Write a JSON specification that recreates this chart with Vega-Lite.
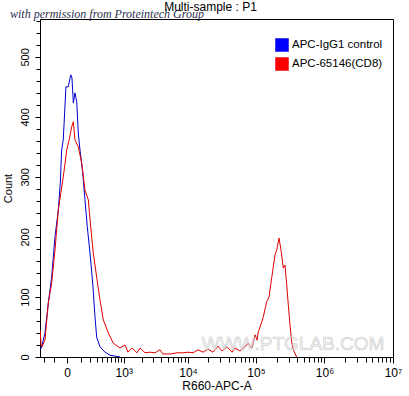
{
  "$schema": "https://vega.github.io/schema/vega-lite/v6.json",
  "width": 353,
  "height": 338,
  "autosize": {"type": "none"},
  "padding": {"left": 40, "top": 19, "right": 16, "bottom": 39},
  "background": "white",
  "title": {"text": "Multi-sample : P1", "fontSize": 12, "fontWeight": "normal", "font": "Liberation Sans", "color": "black", "offset": -6, "dx": -6, "anchor": "middle"},
  "config": {
    "font": "Liberation Sans",
    "view": {"stroke": "black", "strokeWidth": 1},
    "axis": {"domainColor": "black", "tickColor": "black", "labelColor": "black", "titleColor": "black", "grid": false, "labelFont": "Liberation Sans", "titleFont": "Liberation Sans", "titleFontWeight": "normal", "labelOverlap": false, "labelBound": false}
  },
  "resolve": {"axis": {"x": "independent", "y": "independent"}},
  "datasets": {
    "hist": [
      {"s": "APC-IgG1 control", "x": -255, "c": 12},
      {"s": "APC-IgG1 control", "x": -236, "c": 17},
      {"s": "APC-IgG1 control", "x": -193, "c": 40},
      {"s": "APC-IgG1 control", "x": -154, "c": 90},
      {"s": "APC-IgG1 control", "x": -119, "c": 133},
      {"s": "APC-IgG1 control", "x": -88, "c": 200},
      {"s": "APC-IgG1 control", "x": -60, "c": 245},
      {"s": "APC-IgG1 control", "x": -45, "c": 290},
      {"s": "APC-IgG1 control", "x": -35, "c": 345},
      {"s": "APC-IgG1 control", "x": -24, "c": 362},
      {"s": "APC-IgG1 control", "x": -7, "c": 450},
      {"s": "APC-IgG1 control", "x": 7, "c": 450},
      {"s": "APC-IgG1 control", "x": 23, "c": 470},
      {"s": "APC-IgG1 control", "x": 31, "c": 465},
      {"s": "APC-IgG1 control", "x": 41, "c": 423},
      {"s": "APC-IgG1 control", "x": 53, "c": 440},
      {"s": "APC-IgG1 control", "x": 67, "c": 425},
      {"s": "APC-IgG1 control", "x": 80, "c": 373},
      {"s": "APC-IgG1 control", "x": 95, "c": 345},
      {"s": "APC-IgG1 control", "x": 121, "c": 307},
      {"s": "APC-IgG1 control", "x": 144, "c": 262},
      {"s": "APC-IgG1 control", "x": 170, "c": 217},
      {"s": "APC-IgG1 control", "x": 203, "c": 173},
      {"s": "APC-IgG1 control", "x": 239, "c": 123},
      {"s": "APC-IgG1 control", "x": 272, "c": 67},
      {"s": "APC-IgG1 control", "x": 298, "c": 33},
      {"s": "APC-IgG1 control", "x": 354, "c": 17},
      {"s": "APC-IgG1 control", "x": 451, "c": 8},
      {"s": "APC-IgG1 control", "x": 565, "c": 3},
      {"s": "APC-IgG1 control", "x": 861, "c": 0},
      {"s": "APC-65146(CD8)", "x": -258, "c": 45},
      {"s": "APC-65146(CD8)", "x": -245, "c": 20},
      {"s": "APC-65146(CD8)", "x": -232, "c": 17},
      {"s": "APC-65146(CD8)", "x": -193, "c": 28},
      {"s": "APC-65146(CD8)", "x": -154, "c": 90},
      {"s": "APC-65146(CD8)", "x": -119, "c": 123},
      {"s": "APC-65146(CD8)", "x": -88, "c": 178},
      {"s": "APC-65146(CD8)", "x": -60, "c": 245},
      {"s": "APC-65146(CD8)", "x": -24, "c": 300},
      {"s": "APC-65146(CD8)", "x": -2, "c": 345},
      {"s": "APC-65146(CD8)", "x": 13, "c": 362},
      {"s": "APC-65146(CD8)", "x": 29, "c": 383},
      {"s": "APC-65146(CD8)", "x": 41, "c": 392},
      {"s": "APC-65146(CD8)", "x": 53, "c": 362},
      {"s": "APC-65146(CD8)", "x": 80, "c": 350},
      {"s": "APC-65146(CD8)", "x": 111, "c": 323},
      {"s": "APC-65146(CD8)", "x": 144, "c": 278},
      {"s": "APC-65146(CD8)", "x": 182, "c": 262},
      {"s": "APC-65146(CD8)", "x": 212, "c": 217},
      {"s": "APC-65146(CD8)", "x": 247, "c": 173},
      {"s": "APC-65146(CD8)", "x": 298, "c": 133},
      {"s": "APC-65146(CD8)", "x": 354, "c": 95},
      {"s": "APC-65146(CD8)", "x": 416, "c": 62},
      {"s": "APC-65146(CD8)", "x": 524, "c": 40},
      {"s": "APC-65146(CD8)", "x": 652, "c": 23},
      {"s": "APC-65146(CD8)", "x": 861, "c": 15},
      {"s": "APC-65146(CD8)", "x": 1050, "c": 20},
      {"s": "APC-65146(CD8)", "x": 1180, "c": 8},
      {"s": "APC-65146(CD8)", "x": 1376, "c": 15},
      {"s": "APC-65146(CD8)", "x": 1659, "c": 7},
      {"s": "APC-65146(CD8)", "x": 1854, "c": 15},
      {"s": "APC-65146(CD8)", "x": 2225, "c": 7},
      {"s": "APC-65146(CD8)", "x": 2665, "c": 8},
      {"s": "APC-65146(CD8)", "x": 3184, "c": 7},
      {"s": "APC-65146(CD8)", "x": 3799, "c": 12},
      {"s": "APC-65146(CD8)", "x": 4220, "c": 5},
      {"s": "APC-65146(CD8)", "x": 5387, "c": 5},
      {"s": "APC-65146(CD8)", "x": 6860, "c": 7},
      {"s": "APC-65146(CD8)", "x": 8435, "c": 7},
      {"s": "APC-65146(CD8)", "x": 10010, "c": 8},
      {"s": "APC-65146(CD8)", "x": 11875, "c": 7},
      {"s": "APC-65146(CD8)", "x": 14080, "c": 12},
      {"s": "APC-65146(CD8)", "x": 16690, "c": 8},
      {"s": "APC-65146(CD8)", "x": 19775, "c": 13},
      {"s": "APC-65146(CD8)", "x": 23430, "c": 8},
      {"s": "APC-65146(CD8)", "x": 27740, "c": 18},
      {"s": "APC-65146(CD8)", "x": 31780, "c": 10},
      {"s": "APC-65146(CD8)", "x": 37625, "c": 17},
      {"s": "APC-65146(CD8)", "x": 44540, "c": 8},
      {"s": "APC-65146(CD8)", "x": 49280, "c": 15},
      {"s": "APC-65146(CD8)", "x": 58330, "c": 10},
      {"s": "APC-65146(CD8)", "x": 69020, "c": 17},
      {"s": "APC-65146(CD8)", "x": 76370, "c": 23},
      {"s": "APC-65146(CD8)", "x": 87370, "c": 15},
      {"s": "APC-65146(CD8)", "x": 96650, "c": 37},
      {"s": "APC-65146(CD8)", "x": 103360, "c": 28},
      {"s": "APC-65146(CD8)", "x": 108050, "c": 42},
      {"s": "APC-65146(CD8)", "x": 121120, "c": 58},
      {"s": "APC-65146(CD8)", "x": 127840, "c": 67},
      {"s": "APC-65146(CD8)", "x": 143300, "c": 92},
      {"s": "APC-65146(CD8)", "x": 154860, "c": 100},
      {"s": "APC-65146(CD8)", "x": 169500, "c": 132},
      {"s": "APC-65146(CD8)", "x": 189430, "c": 170},
      {"s": "APC-65146(CD8)", "x": 200580, "c": 178},
      {"s": "APC-65146(CD8)", "x": 216830, "c": 198},
      {"s": "APC-65146(CD8)", "x": 231870, "c": 178},
      {"s": "APC-65146(CD8)", "x": 250420, "c": 148},
      {"s": "APC-65146(CD8)", "x": 265120, "c": 153},
      {"s": "APC-65146(CD8)", "x": 280870, "c": 120},
      {"s": "APC-65146(CD8)", "x": 296100, "c": 87},
      {"s": "APC-65146(CD8)", "x": 313600, "c": 53},
      {"s": "APC-65146(CD8)", "x": 332300, "c": 25},
      {"s": "APC-65146(CD8)", "x": 350400, "c": 12},
      {"s": "APC-65146(CD8)", "x": 393000, "c": 0}
    ]
  },
  "layer": [
    {
      "data": {"name": "hist"},
      "mark": {"type": "line", "strokeWidth": 1, "interpolate": "linear", "clip": true},
      "encoding": {
        "x": {
          "field": "x", "type": "quantitative",
          "scale": {"type": "symlog", "constant": 175, "domain": [-260, 10000000], "nice": false, "zero": false},
          "axis": {
            "orient": "bottom", "title": "R660-APC-A", "titleFontSize": 12, "titlePadding": 2,
            "values": [0, 1000, 10000, 100000, 1000000, 10000000],
            "labelExpr": "datum.value == 0 ? '0' : datum.value == 1000 ? '10³' : datum.value == 10000 ? '10⁴' : datum.value == 100000 ? '10⁵' : datum.value == 1000000 ? '10⁶' : '10⁷'",
            "labelFontSize": 12, "labelPadding": 4, "tickSize": 6, "labelOverlap": false, "labelFlush": false
          }
        },
        "y": {
          "field": "c", "type": "quantitative",
          "scale": {"domain": [0, 563], "nice": false, "zero": true},
          "axis": {
            "orient": "left", "title": "Count", "titleFontSize": 11, "titlePadding": 6,
            "values": [0, 100, 200, 300, 400, 500],
            "labelAngle": -90, "labelAlign": "center", "labelBaseline": "bottom",
            "labelFontSize": 11, "labelPadding": 5, "tickSize": 5, "labelOverlap": false, "labelFlush": false
          }
        },
        "color": {
          "field": "s", "type": "nominal",
          "scale": {"domain": ["APC-IgG1 control", "APC-65146(CD8)"], "range": ["#0000CC", "#E00000"]},
          "legend": {
            "title": null, "orient": "none", "legendX": 235, "legendY": 19,
            "symbolType": "square", "symbolSize": 169, "labelFontSize": 11.5, "labelFont": "Liberation Sans", "labelColor": "black",
            "labelOffset": 3, "rowPadding": 3, "padding": 0, "labelLimit": 300,
            "encode": {"symbols": {"update": {
              "fill": {"signal": "datum.value === 'APC-IgG1 control' ? '#0000ff' : '#ff0000'"},
              "stroke": {"signal": "datum.value === 'APC-IgG1 control' ? '#0000aa' : '#cc0000'"},
              "strokeWidth": {"value": 0.5},
              "opacity": {"value": 1}
            }}}
          }
        },
        "order": {"field": "x", "type": "quantitative"}
      }
    },
    {
      "data": {"values": [{}]},
      "mark": {"type": "text", "font": "Liberation Sans", "fontSize": 19, "fill": "#eeeeee", "fillOpacity": 0.4, "stroke": "#c4c4c4", "strokeWidth": 0.7, "strokeOpacity": 0.8, "align": "center", "baseline": "middle", "clip": false},
      "encoding": {
        "x": {"datum": 347200, "type": "quantitative",
          "axis": {"orient": "bottom", "title": null, "labels": false, "domain": false, "tickSize": 5,
            "values": [-200, -100, 100, 200, 300, 400, 500, 600, 700, 800, 900, 2000, 3000, 4000, 5000, 6000, 7000, 8000, 9000, 20000, 30000, 40000, 50000, 60000, 70000, 80000, 90000, 200000, 300000, 400000, 500000, 600000, 700000, 800000, 900000, 2000000, 3000000, 4000000, 5000000, 6000000, 7000000, 8000000, 9000000]}},
        "y": {"datum": 22, "type": "quantitative",
          "axis": {"orient": "left", "title": null, "labels": false, "domain": false, "tickSize": 4,
            "values": [20, 40, 60, 80, 120, 140, 160, 180, 220, 240, 260, 280, 320, 340, 360, 380, 420, 440, 460, 480, 520, 540, 560]}},
        "text": {"value": "WWW.PTGLAB.COM"}
      }
    },
    {
      "data": {"values": [{}]},
      "mark": {"type": "text", "font": "Liberation Serif", "fontStyle": "italic", "fontSize": 12, "color": "#2b3050", "align": "center", "baseline": "middle", "clip": false},
      "encoding": {
        "x": {"datum": 494, "type": "quantitative", "axis": null},
        "y": {"datum": 572, "type": "quantitative", "axis": null},
        "text": {"value": "with permission from Proteintech Group"}
      }
    }
  ]
}
